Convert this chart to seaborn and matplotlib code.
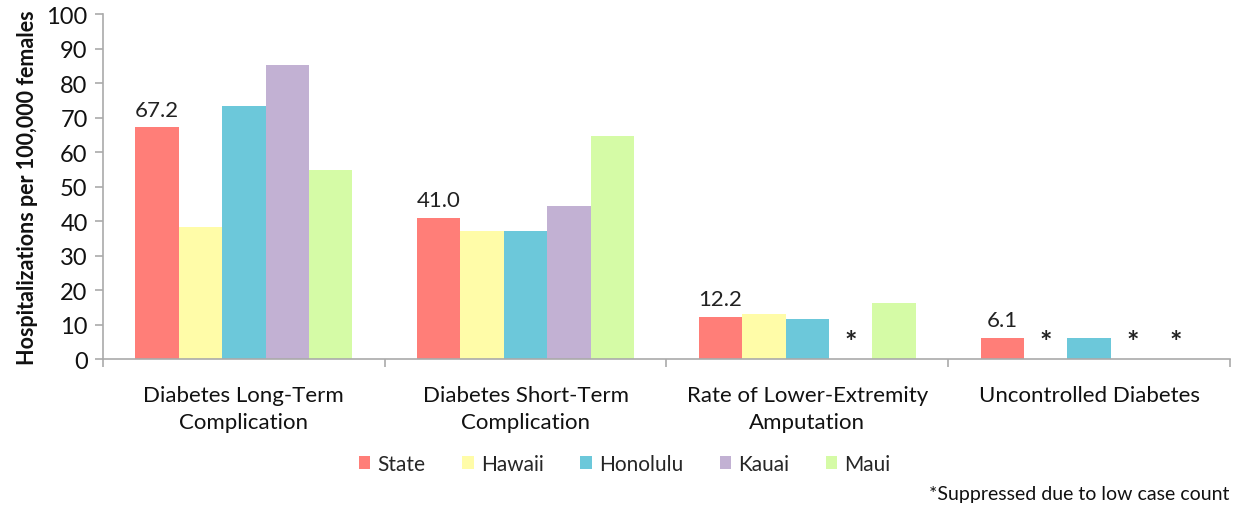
import numpy as np
import pandas as pd
import matplotlib
matplotlib.use("Agg")
import matplotlib.pyplot as plt
import seaborn as sns

# Age-adjusted diabetes hospitalization rates, females
categories = [
    "Diabetes Long-Term\nComplication",
    "Diabetes Short-Term\nComplication",
    "Rate of Lower-Extremity\nAmputation",
    "Uncontrolled Diabetes",
]
regions = ["State", "Hawaii", "Honolulu", "Kauai", "Maui"]
state = [67.2, 41.0, 12.2, 6.1]
hawaii = [38.3, 37.2, 13.0, None]
honolulu = [73.4, 37.1, 11.5, 6.2]
kauai = [85.2, 44.4, None, None]
maui = [54.8, 64.7, 16.1, None]
colors = ["#FF7E78", "#FFFCA8", "#6CC8DA", "#C2B1D3", "#D5FBA6"]

series = dict(zip(regions, [state, hawaii, honolulu, kauai, maui]))
rows = []
for reg, vals in series.items():
    for cat, v in zip(categories, vals):
        rows.append({"category": cat, "region": reg,
                     "rate": np.nan if v is None else v})
df = pd.DataFrame(rows)
df["suppressed"] = df["rate"].isna()
df["plot_rate"] = df["rate"].fillna(0.0)

sns.set_style("white")
plt.rcParams["font.family"] = ["Lato", "DejaVu Sans"]

fig = plt.figure(figsize=(12.33, 5.06), dpi=100)
ax = fig.add_axes([0.0835, 0.2885, 0.914, 0.6815])

sns.barplot(data=df, x="category", y="plot_rate", hue="region",
            order=categories, hue_order=regions, palette=colors,
            width=0.77, linewidth=0, saturation=1, ax=ax, legend=True)

# value labels for the State series and asterisks for suppressed counts
for reg, cont in zip(regions, ax.containers):
    sub = df[df["region"] == reg].set_index("category").loc[categories]
    for bar, (cat, r) in zip(cont.patches, sub.iterrows()):
        cx = bar.get_x() + bar.get_width() / 2
        if r["suppressed"]:
            ax.text(cx, 5.0, "*", ha="center", va="center",
                    fontsize=21, fontweight="bold", color="#222222")
        elif reg == "State":
            ax.text(cx, r["rate"] + 2.2, f"{r['rate']:.1f}", ha="center",
                    va="bottom", fontsize=16, color="#222222")

ax.set_ylim(0, 100)
ax.set_yticks(range(0, 101, 10))
ax.set_xlim(-0.5, len(categories) - 0.5)
ax.set_xlabel("")
ax.set_ylabel("Hospitalizations per 100,000 females", fontsize=15.5,
              fontweight="bold", labelpad=6, color="#111111")

for side in ("top", "right"):
    ax.spines[side].set_visible(False)
for side in ("left", "bottom"):
    ax.spines[side].set_color("#AAAAAA")
    ax.spines[side].set_linewidth(1.2)

ax.tick_params(axis="y", which="both", left=True, length=6, width=1.2,
               color="#AAAAAA", labelsize=17, pad=5, labelcolor="#111111")
# category ticks sit on the boundaries between groups
ax.set_xticks(np.arange(len(categories)))
ax.set_xticklabels(categories, fontsize=16, color="#111111",
                   linespacing=1.45)
ax.tick_params(axis="x", which="major", bottom=False, pad=15)
ax.set_xticks(np.arange(len(categories) + 1) - 0.5, minor=True)
ax.tick_params(axis="x", which="minor", bottom=True, length=6, width=1.2,
               color="#AAAAAA")

leg = ax.legend(loc="center", bbox_to_anchor=(0.463, -0.304), ncol=5,
                frameon=False, fontsize=15, handlelength=0.55,
                handleheight=0.55, handletextpad=0.35, columnspacing=1.75)

fig.text(0.997, 0.005, "*Suppressed due to low case count", ha="right",
         va="bottom", fontsize=14, color="#111111")

fig.savefig("out.png", dpi=100)
